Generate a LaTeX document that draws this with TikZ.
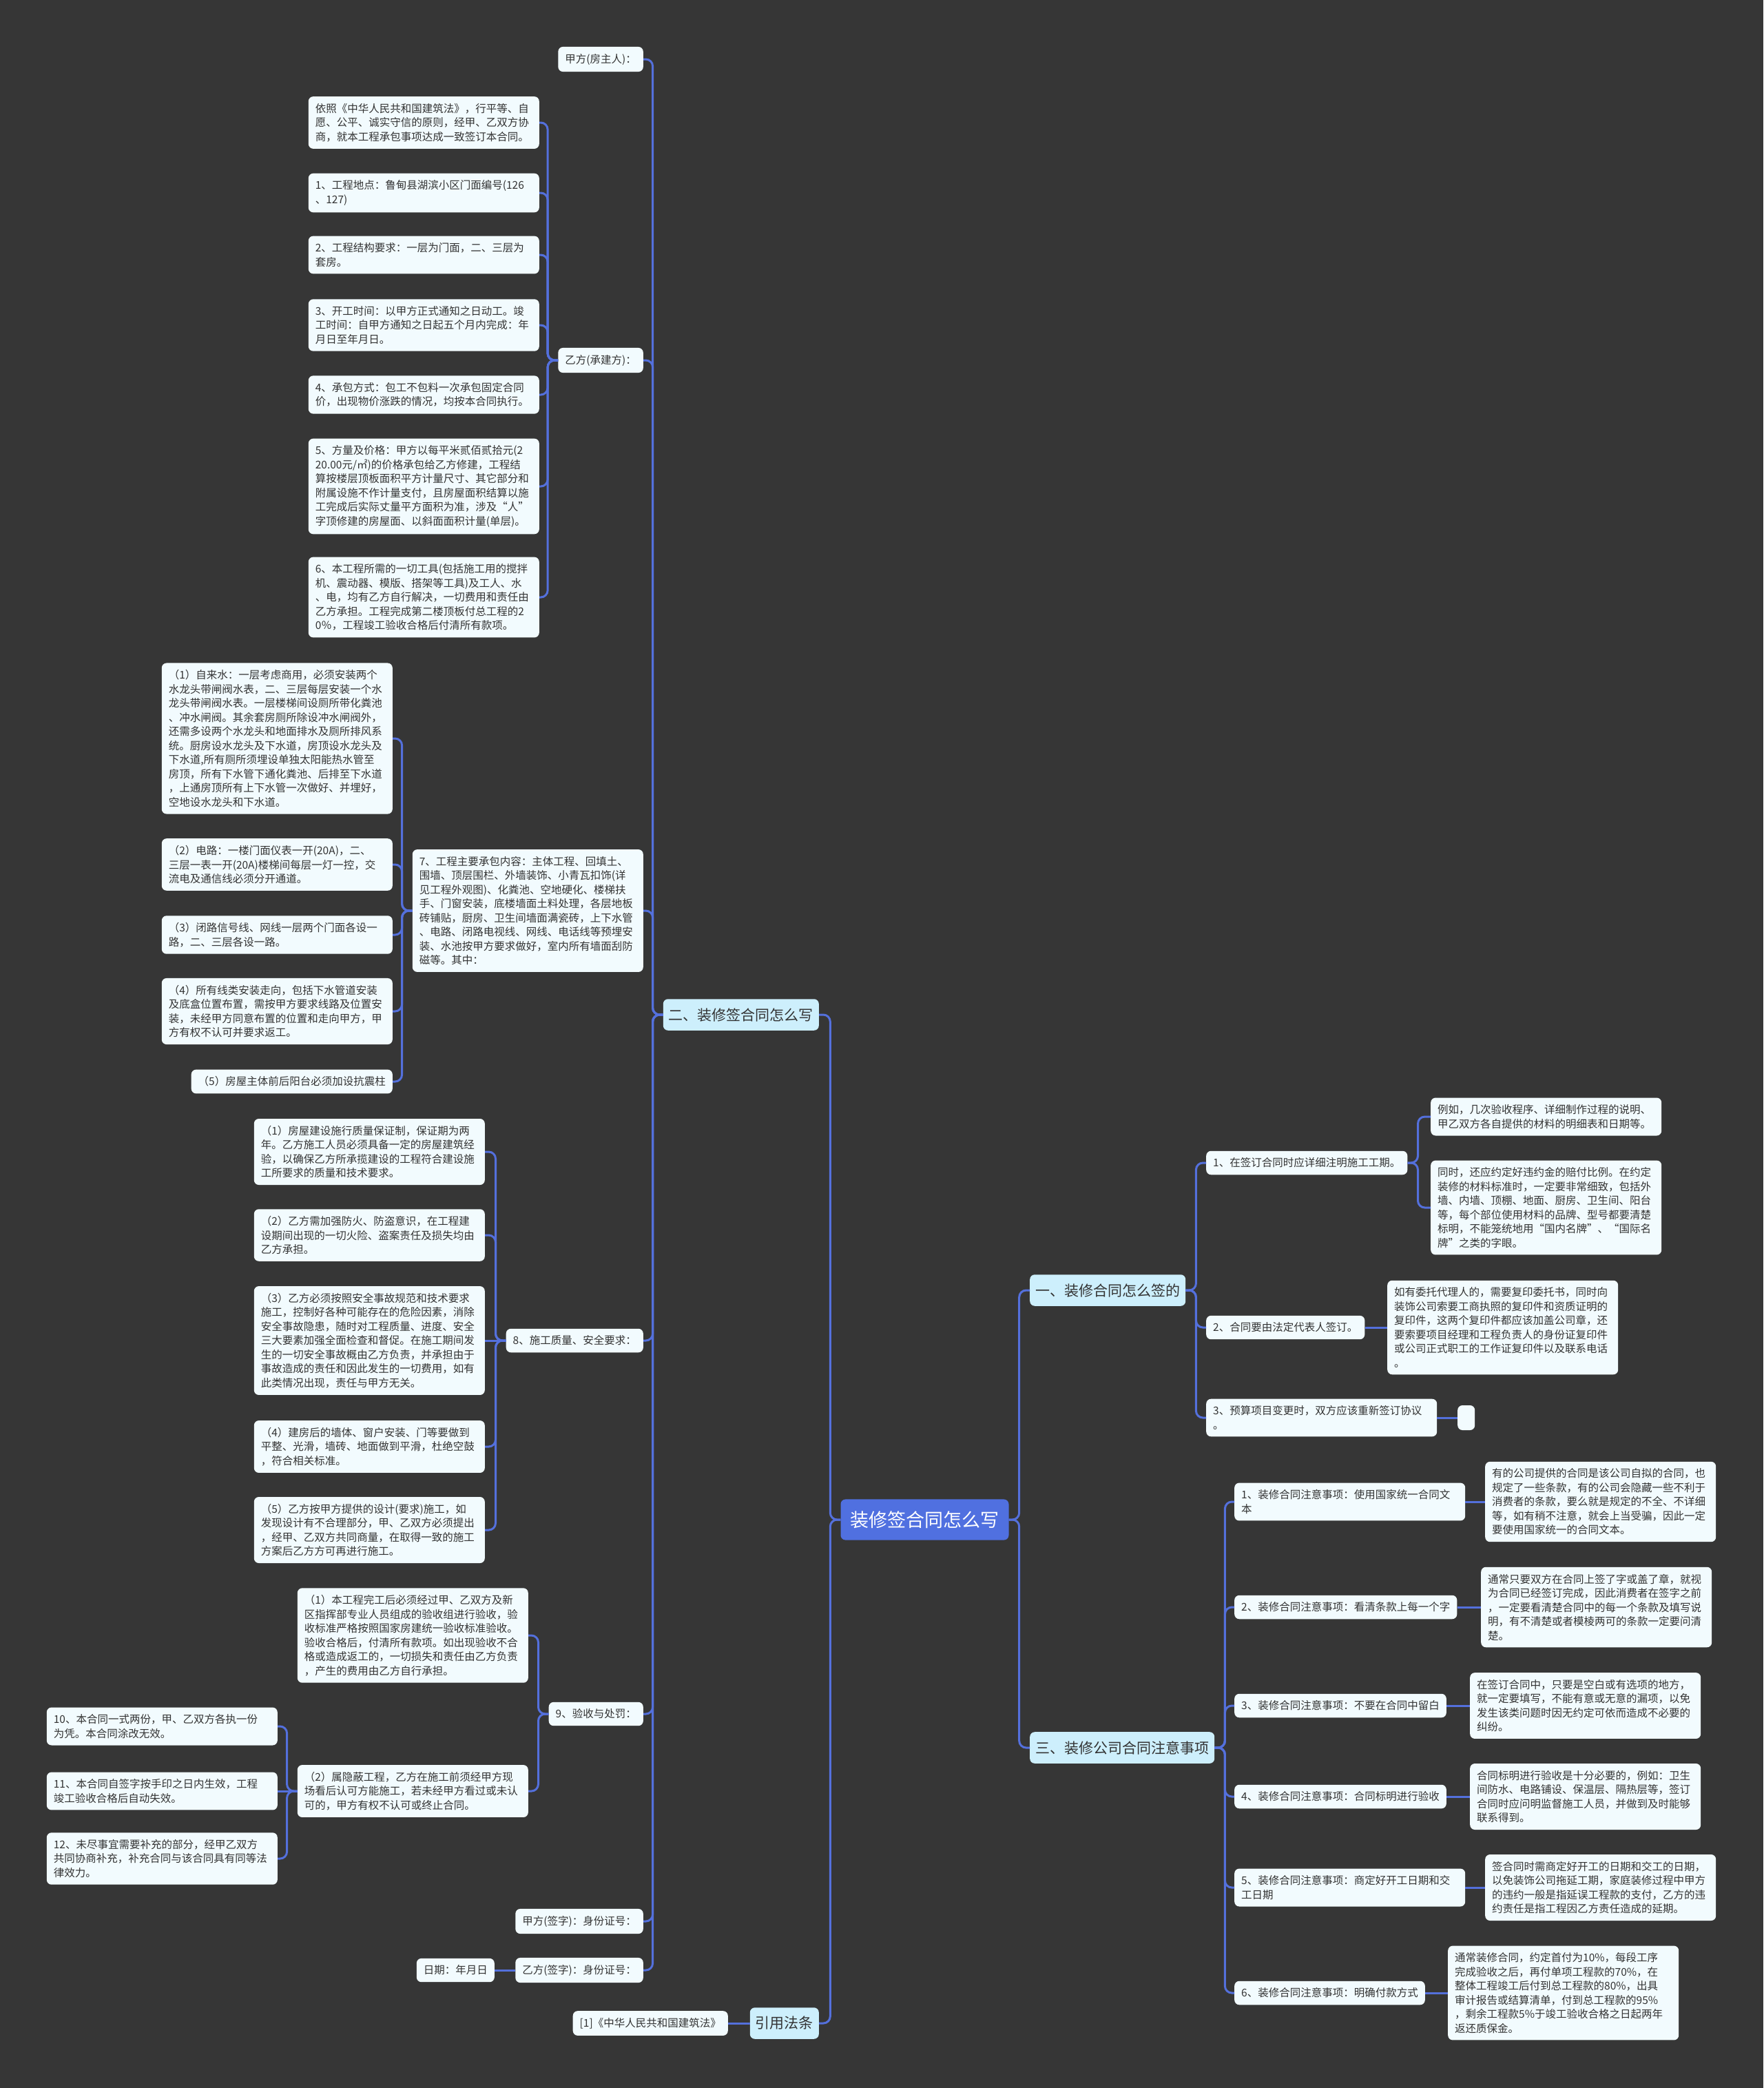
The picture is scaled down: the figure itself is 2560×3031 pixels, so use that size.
\documentclass[tikz,border=0pt]{standalone}
\usepackage{fontspec}
\setmainfont{Noto Sans CJK SC}
\definecolor{bgc}{HTML}{363636}
\definecolor{leaffill}{HTML}{F2FBFE}
\definecolor{mainfill}{HTML}{CDEFFC}
\definecolor{rootfill}{HTML}{5070E0}
\definecolor{linec}{HTML}{5470DC}
\definecolor{txt}{HTML}{333333}
\tikzset{
  leaf/.style={fill=leaffill, rounded corners=7pt, text=txt, font=\fontsize{15.5}{20.5}\selectfont, align=left, inner xsep=10pt, inner ysep=10pt},
  lw/.style={leaf, text width=315pt},
  mainnode/.style={fill=mainfill, rounded corners=7pt, text=txt, font=\fontsize{21}{26}\selectfont, inner xsep=8pt, inner ysep=13pt},
  rootnode/.style={fill=rootfill, rounded corners=7pt, text=white, font=\fontsize{27}{32}\selectfont, inner xsep=14pt, inner ysep=17pt},
  conn/.style={draw=linec, line width=3pt, rounded corners=10pt},
}
\newcommand\mylc[2]{\draw[conn] (#1.west) -- ++(-15,0) |- (#2.east);}
\newcommand\myrc[2]{\draw[conn] (#1.east) -- ++(15,0) |- (#2.west);}
\newcommand\mysl[2]{\draw[conn] (#1.west) -- (#2.east);}
\newcommand\mysr[2]{\draw[conn] (#1.east) -- (#2.west);}
\begin{document}
\begin{tikzpicture}[x=1pt,y=-1pt]
\fill[bgc] (0,0) rectangle (2560,3031);
\useasboundingbox (0,0) rectangle (2560,3031);

% root and main branches
\node[rootnode] (c) at (1342.5,2206) {装修签合同怎么写};
\node[mainnode, anchor=east] (b2) at (1189,1473) {二、装修签合同怎么写};
\node[mainnode, anchor=east] (bl) at (1189,2937) {引用法条};
\node[mainnode, anchor=west] (b1) at (1495,1873) {一、装修合同怎么签的};
\node[mainnode, anchor=west] (b3) at (1495,2537) {三、装修公司合同注意事项};

% children of b2
\node[leaf, anchor=east] (jf) at (934,86) {甲方(房主人)：};
\node[leaf, anchor=east] (yf) at (934,523) {乙方(承建方)：};
\node[lw, anchor=east] (p7) at (934,1322) {7、工程主要承包内容：主体工程、回填土、\\围墙、顶层围栏、外墙装饰、小青瓦扣饰(详\\见工程外观图)、化粪池、空地硬化、楼梯扶\\手、门窗安装，底楼墙面土料处理，各层地板\\砖铺贴，厨房、卫生间墙面满瓷砖，上下水管\\、电路、闭路电视线、网线、电话线等预埋安\\装、水池按甲方要求做好，室内所有墙面刮防\\磁等。其中：};
\node[leaf, anchor=east] (p8) at (934,1946) {8、施工质量、安全要求：};
\node[leaf, anchor=east] (p9) at (934,2488) {9、验收与处罚：};
\node[leaf, anchor=east] (js) at (934,2789) {甲方(签字)：身份证号：};
\node[leaf, anchor=east] (ys) at (934,2860) {乙方(签字)：身份证号：};
\node[leaf, anchor=east] (dt) at (718,2860) {日期：年月日};
\node[leaf, anchor=east] (law) at (1057,2937) {[1]《中华人民共和国建筑法》};

% children of yf
\node[lw, anchor=east] (n0) at (783,178) {依照《中华人民共和国建筑法》，行平等、自\\愿、公平、诚实守信的原则，经甲、乙双方协\\商，就本工程承包事项达成一致签订本合同。};
\node[lw, anchor=east] (n1) at (783,280) {1、工程地点：鲁甸县湖滨小区门面编号(126\\、127)};
\node[lw, anchor=east] (n2) at (783,370) {2、工程结构要求：一层为门面，二、三层为\\套房。};
\node[lw, anchor=east] (n3) at (783,472) {3、开工时间：以甲方正式通知之日动工。竣\\工时间：自甲方通知之日起五个月内完成：年\\月日至年月日。};
\node[lw, anchor=east] (n4) at (783,573) {4、承包方式：包工不包料一次承包固定合同\\价，出现物价涨跌的情况，均按本合同执行。};
\node[lw, anchor=east] (n5) at (783,706) {5、方量及价格：甲方以每平米贰佰贰拾元(2\\20.00元/㎡)的价格承包给乙方修建，工程结\\算按楼层顶板面积平方计量尺寸、其它部分和\\附属设施不作计量支付，且房屋面积结算以施\\工完成后实际丈量平方面积为准，涉及“人”\\字顶修建的房屋面、以斜面面积计量(单层)。};
\node[lw, anchor=east] (n6) at (783,867) {6、本工程所需的一切工具(包括施工用的搅拌\\机、震动器、模版、搭架等工具)及工人、水\\、电，均有乙方自行解决，一切费用和责任由\\乙方承担。工程完成第二楼顶板付总工程的2\\0％，工程竣工验收合格后付清所有款项。};

% children of p7
\node[lw, anchor=east] (s1) at (570,1072) {（1）自来水：一层考虑商用，必须安装两个\\水龙头带闸阀水表，二、三层每层安装一个水\\龙头带闸阀水表。一层楼梯间设厕所带化粪池\\、冲水闸阀。其余套房厕所除设冲水闸阀外，\\还需多设两个水龙头和地面排水及厕所排风系\\统。厨房设水龙头及下水道，房顶设水龙头及\\下水道,所有厕所须埋设单独太阳能热水管至\\房顶，所有下水管下通化粪池、后排至下水道\\，上通房顶所有上下水管一次做好、并埋好，\\空地设水龙头和下水道。};
\node[lw, anchor=east] (s2) at (570,1255) {（2）电路：一楼门面仪表一开(20A)，二、\\三层一表一开(20A)楼梯间每层一灯一控，交\\流电及通信线必须分开通道。};
\node[lw, anchor=east] (s3) at (570,1357) {（3）闭路信号线、网线一层两个门面各设一\\路，二、三层各设一路。};
\node[lw, anchor=east] (s4) at (570,1468) {（4）所有线类安装走向，包括下水管道安装\\及底盒位置布置，需按甲方要求线路及位置安\\装，未经甲方同意布置的位置和走向甲方，甲\\方有权不认可并要求返工。};
\node[leaf, anchor=east] (s5) at (570,1570) {（5）房屋主体前后阳台必须加设抗震柱};

% children of p8
\node[lw, anchor=east] (q1) at (704,1672) {（1）房屋建设施行质量保证制，保证期为两\\年。乙方施工人员必须具备一定的房屋建筑经\\验，以确保乙方所承揽建设的工程符合建设施\\工所要求的质量和技术要求。};
\node[lw, anchor=east] (q2) at (704,1793) {（2）乙方需加强防火、防盗意识，在工程建\\设期间出现的一切火险、盗案责任及损失均由\\乙方承担。};
\node[lw, anchor=east] (q3) at (704,1946) {（3）乙方必须按照安全事故规范和技术要求\\施工，控制好各种可能存在的危险因素，消除\\安全事故隐患，随时对工程质量、进度、安全\\三大要素加强全面检查和督促。在施工期间发\\生的一切安全事故概由乙方负责，并承担由于\\事故造成的责任和因此发生的一切费用，如有\\此类情况出现，责任与甲方无关。};
\node[lw, anchor=east] (q4) at (704,2100) {（4）建房后的墙体、窗户安装、门等要做到\\平整、光滑，墙砖、地面做到平滑，杜绝空鼓\\，符合相关标准。};
\node[lw, anchor=east] (q5) at (704,2221) {（5）乙方按甲方提供的设计(要求)施工，如\\发现设计有不合理部分，甲、乙双方必须提出\\，经甲、乙双方共同商量，在取得一致的施工\\方案后乙方方可再进行施工。};

% children of p9
\node[lw, anchor=east] (y1) at (767,2374) {（1）本工程完工后必须经过甲、乙双方及新\\区指挥部专业人员组成的验收组进行验收，验\\收标准严格按照国家房建统一验收标准验收。\\验收合格后，付清所有款项。如出现验收不合\\格或造成返工的，一切损失和责任由乙方负责\\，产生的费用由乙方自行承担。};
\node[lw, anchor=east] (y2) at (767,2600) {（2）属隐蔽工程，乙方在施工前须经甲方现\\场看后认可方能施工，若未经甲方看过或未认\\可的，甲方有权不认可或终止合同。};
\node[lw, anchor=east] (n10) at (403,2506) {10、本合同一式两份，甲、乙双方各执一份\\为凭。本合同涂改无效。};
\node[lw, anchor=east] (n11) at (403,2600) {11、本合同自签字按手印之日内生效，工程\\竣工验收合格后自动失效。};
\node[lw, anchor=east] (n12) at (403,2698) {12、未尽事宜需要补充的部分，经甲乙双方\\共同协商补充，补充合同与该合同具有同等法\\律效力。};

% right branch one
\node[leaf, anchor=west] (r1) at (1751,1688) {1、在签订合同时应详细注明施工工期。};
\node[lw, anchor=west] (r1a) at (2077,1621) {例如，几次验收程序、详细制作过程的说明、\\甲乙双方各自提供的材料的明细表和日期等。};
\node[lw, anchor=west] (r1b) at (2077,1753) {同时，还应约定好违约金的赔付比例。在约定\\装修的材料标准时，一定要非常细致，包括外\\墙、内墙、顶棚、地面、厨房、卫生间、阳台\\等，每个部位使用材料的品牌、型号都要清楚\\标明，不能笼统地用“国内名牌”、“国际名\\牌”之类的字眼。};
\node[leaf, anchor=west] (r2) at (1751,1927) {2、合同要由法定代表人签订。};
\node[lw, anchor=west] (r2a) at (2014,1927) {如有委托代理人的，需要复印委托书，同时向\\装饰公司索要工商执照的复印件和资质证明的\\复印件，这两个复印件都应该加盖公司章，还\\要索要项目经理和工程负责人的身份证复印件\\或公司正式职工的工作证复印件以及联系电话\\。};
\node[lw, anchor=west] (r3) at (1751,2058) {3、预算项目变更时，双方应该重新签订协议\\。};
\node[leaf, anchor=west, minimum width=25pt, minimum height=36pt, inner sep=0pt] (r3a) at (2116,2058) {};

% right branch three
\node[lw, anchor=west] (t1) at (1792,2180) {1、装修合同注意事项：使用国家统一合同文\\本};
\node[lw, anchor=west] (t1a) at (2156,2180) {有的公司提供的合同是该公司自拟的合同，也\\规定了一些条款，有的公司会隐藏一些不利于\\消费者的条款，要么就是规定的不全、不详细\\等，如有稍不注意，就会上当受骗，因此一定\\要使用国家统一的合同文本。};
\node[leaf, anchor=west] (t2) at (1792,2333) {2、装修合同注意事项：看清条款上每一个字};
\node[lw, anchor=west] (t2a) at (2150,2333) {通常只要双方在合同上签了字或盖了章，就视\\为合同已经签订完成，因此消费者在签字之前\\，一定要看清楚合同中的每一个条款及填写说\\明，有不清楚或者模棱两可的条款一定要问清\\楚。};
\node[leaf, anchor=west] (t3) at (1792,2476) {3、装修合同注意事项：不要在合同中留白};
\node[lw, anchor=west] (t3a) at (2134,2476) {在签订合同中，只要是空白或有选项的地方，\\就一定要填写，不能有意或无意的漏项，以免\\发生该类问题时因无约定可依而造成不必要的\\纠纷。};
\node[leaf, anchor=west] (t4) at (1792,2608) {4、装修合同注意事项：合同标明进行验收};
\node[lw, anchor=west] (t4a) at (2134,2608) {合同标明进行验收是十分必要的，例如：卫生\\间防水、电路铺设、保温层、隔热层等，签订\\合同时应问明监督施工人员，并做到及时能够\\联系得到。};
\node[lw, anchor=west] (t5) at (1792,2740) {5、装修合同注意事项：商定好开工日期和交\\工日期};
\node[lw, anchor=west] (t5a) at (2156,2740) {签合同时需商定好开工的日期和交工的日期，\\以免装饰公司拖延工期，家庭装修过程中甲方\\的违约一般是指延误工程款的支付，乙方的违\\约责任是指工程因乙方责任造成的延期。};
\node[leaf, anchor=west] (t6) at (1792,2893) {6、装修合同注意事项：明确付款方式};
\node[lw, anchor=west] (t6a) at (2102,2893) {通常装修合同，约定首付为10\%，每段工序\\完成验收之后，再付单项工程款的70\%，在\\整体工程竣工后付到总工程款的80\%，出具\\审计报告或结算清单，付到总工程款的95\%\\，剩余工程款5\%于竣工验收合格之日起两年\\返还质保金。};

% connectors
\mylc{c}{b2} \mylc{c}{bl} \myrc{c}{b1} \myrc{c}{b3}
\mylc{b2}{jf} \mylc{b2}{yf} \mylc{b2}{p7} \mylc{b2}{p8} \mylc{b2}{p9} \mylc{b2}{js} \mylc{b2}{ys}
\mylc{yf}{n0} \mylc{yf}{n1} \mylc{yf}{n2} \mylc{yf}{n3} \mylc{yf}{n4} \mylc{yf}{n5} \mylc{yf}{n6}
\mylc{p7}{s1} \mylc{p7}{s2} \mylc{p7}{s3} \mylc{p7}{s4} \mylc{p7}{s5}
\mylc{p8}{q1} \mylc{p8}{q2} \mysl{p8}{q3} \mylc{p8}{q4} \mylc{p8}{q5}
\mylc{p9}{y1} \mylc{p9}{y2}
\mylc{y2}{n10} \mysl{y2}{n11} \mylc{y2}{n12}
\mysl{ys}{dt} \mysl{bl}{law}
\myrc{b1}{r1} \myrc{b1}{r2} \myrc{b1}{r3}
\myrc{r1}{r1a} \myrc{r1}{r1b}
\mysr{r2}{r2a} \mysr{r3}{r3a}
\myrc{b3}{t1} \myrc{b3}{t2} \myrc{b3}{t3} \myrc{b3}{t4} \myrc{b3}{t5} \myrc{b3}{t6}
\mysr{t1}{t1a} \mysr{t2}{t2a} \mysr{t3}{t3a} \mysr{t4}{t4a} \mysr{t5}{t5a} \mysr{t6}{t6a}
\end{tikzpicture}
\end{document}
